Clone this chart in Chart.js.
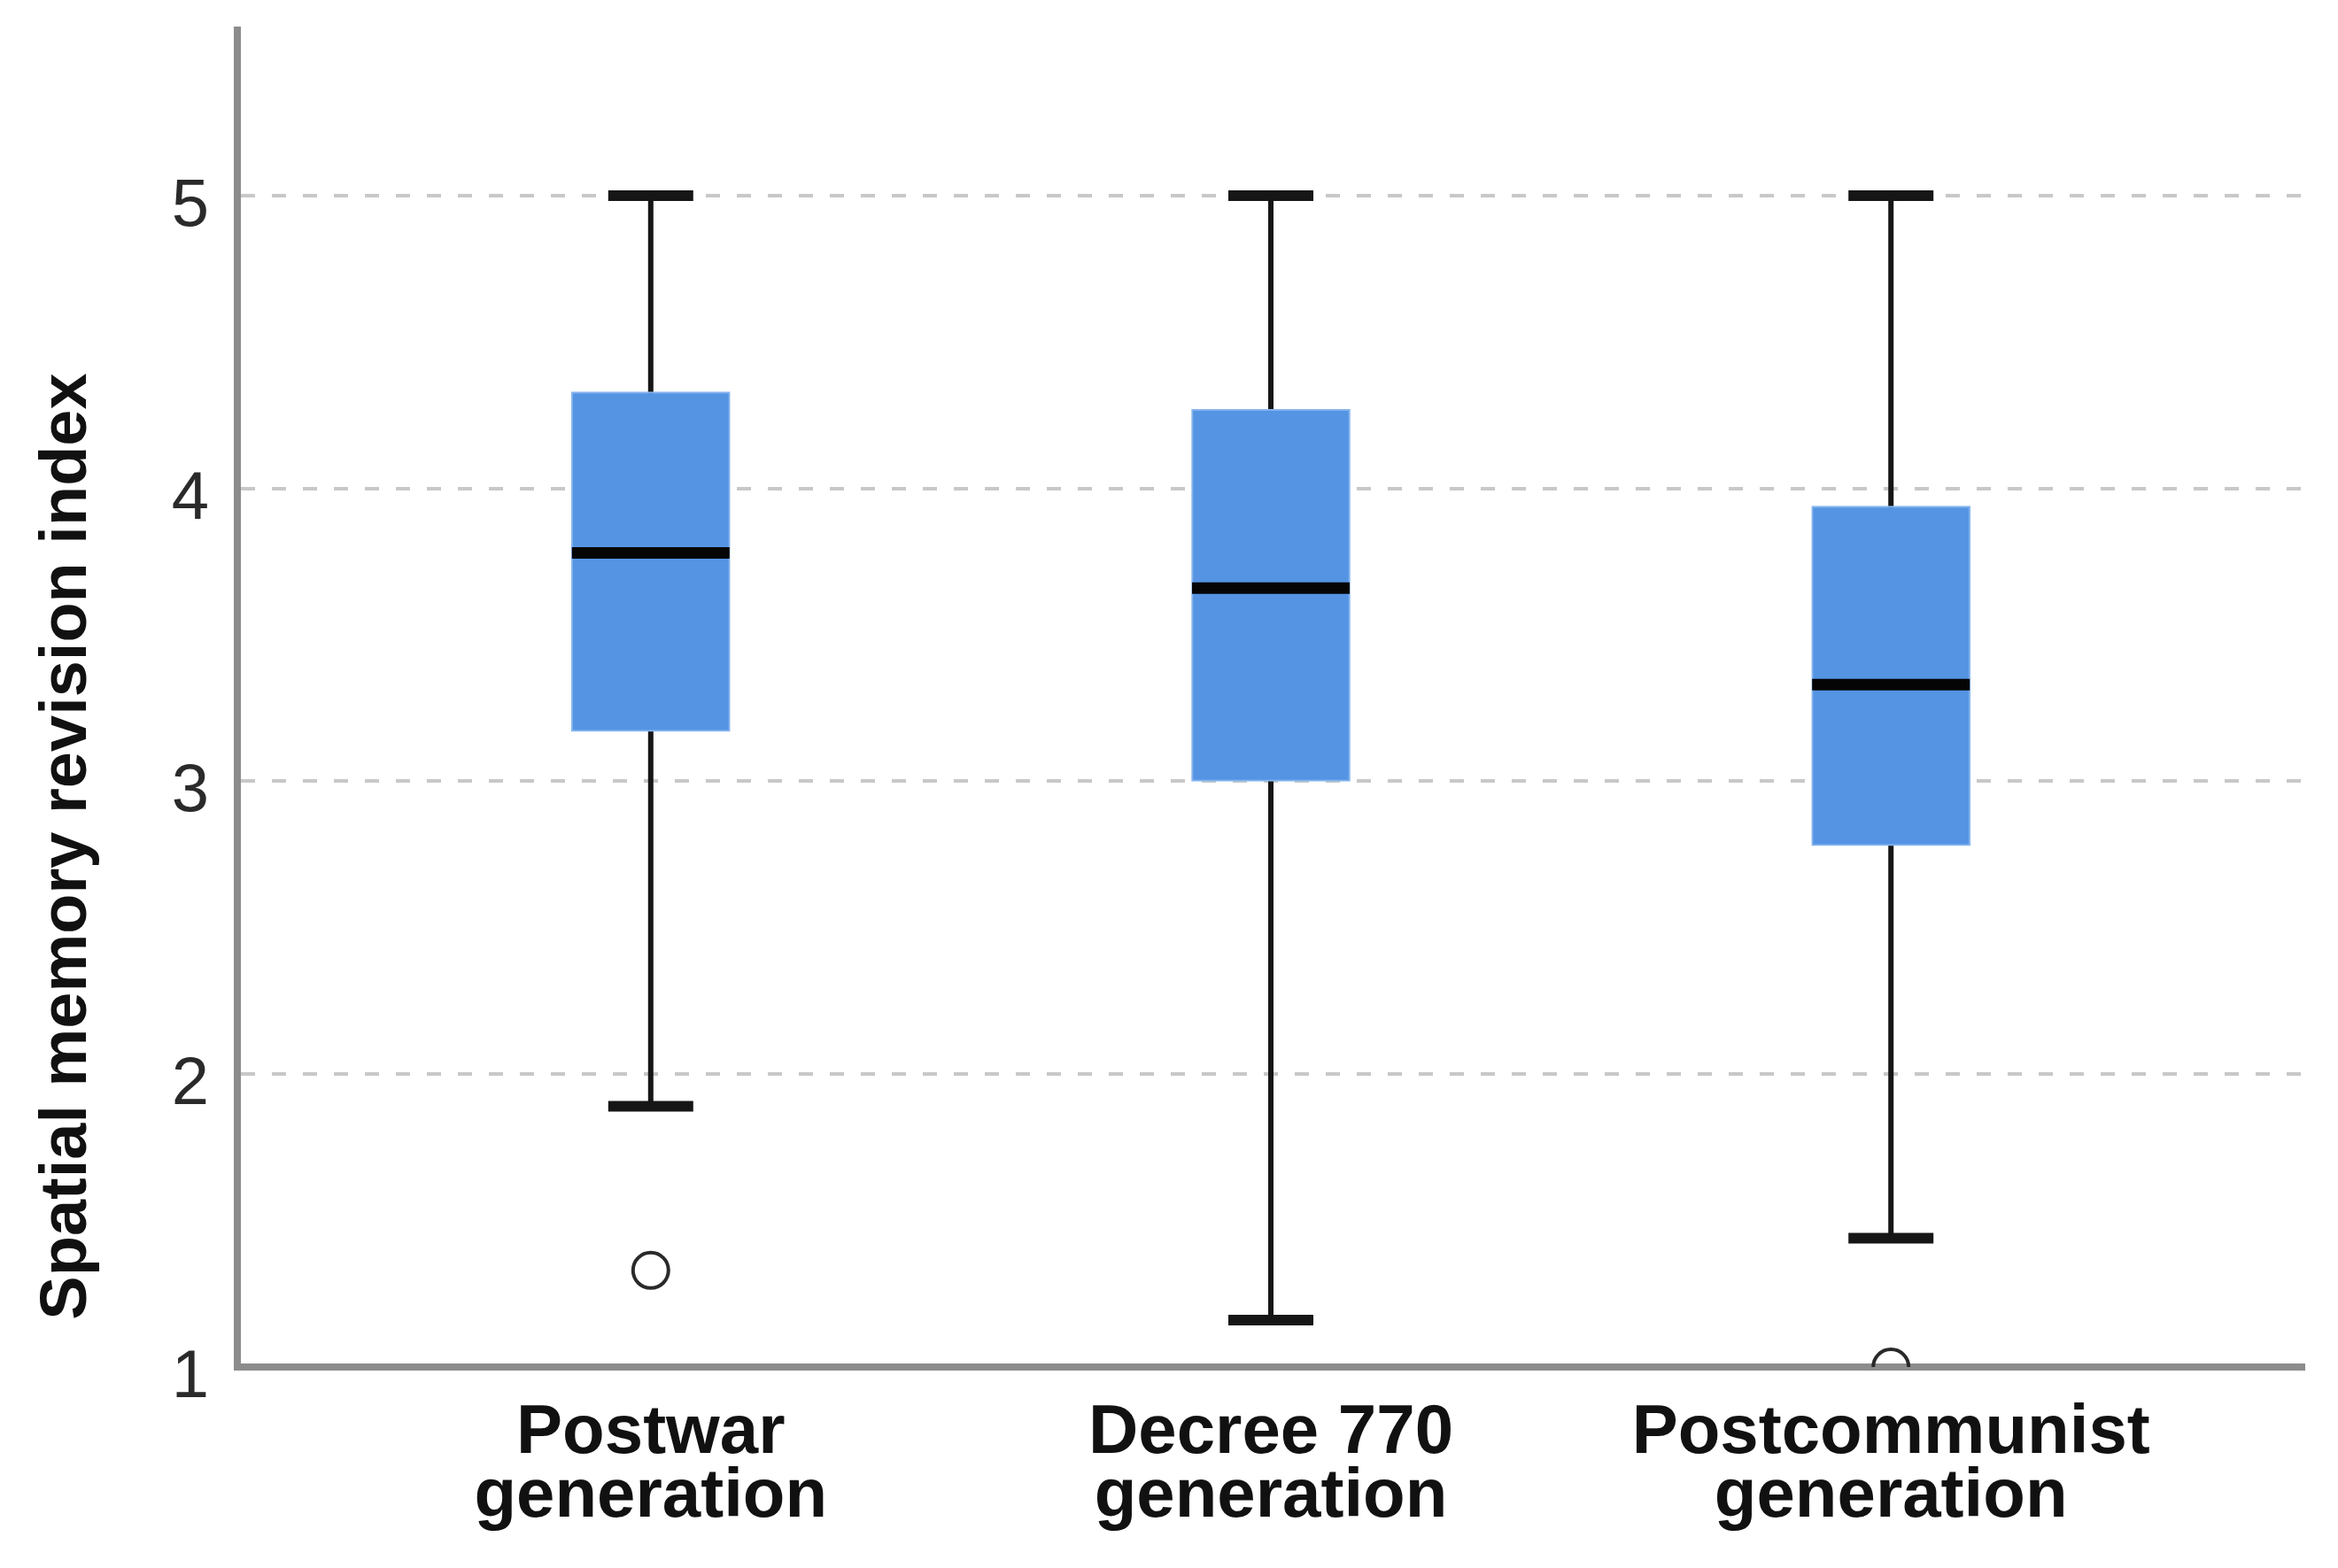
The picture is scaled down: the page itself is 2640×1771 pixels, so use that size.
<!DOCTYPE html>
<html><head><meta charset="utf-8">
<script src="https://cdn.jsdelivr.net/npm/chart.js@4.4.1/dist/chart.umd.min.js"></script>
<style>html,body{margin:0;padding:0;background:#fff}#wrap{width:2640px;height:1771px;position:relative;background:#fff}</style>
</head><body><div id="wrap"><canvas id="c"></canvas></div>
<script>
const categories = [['Postwar', 'generation'], ['Decree 770', 'generation'], ['Postcommunist', 'generation']];
const categoryPositions = [1, 2, 3];
const whiskerLow = [1.89, 1.16, 1.44];
const q1 = [3.17, 3.00, 2.78];
const median = [3.78, 3.66, 3.33];
const q3 = [4.33, 4.27, 3.94];
const whiskerHigh = [5, 5, 5];
const outlierCategory = [1, 3];
const outlierValue = [1.33, 1.00];
const yTicks = [1, 2, 3, 4, 5];
const yAxisTitle = 'Spatial memory revision index';

const FONT = "'Liberation Sans', Arial, sans-serif";

const boxParts = {
  id: 'boxParts',
  beforeDatasetsDraw(chart) {
    const {ctx, scales: {x, y}} = chart;
    ctx.save();
    ctx.strokeStyle = '#161616';
    categoryPositions.forEach((c, i) => {
      const px = x.getPixelForValue(c);
      ctx.lineWidth = 6;
      ctx.beginPath();
      ctx.moveTo(px, y.getPixelForValue(whiskerLow[i]));
      ctx.lineTo(px, y.getPixelForValue(whiskerHigh[i]));
      ctx.stroke();
      ctx.lineWidth = 12;
      [whiskerLow[i], whiskerHigh[i]].forEach(v => {
        const py = y.getPixelForValue(v);
        ctx.beginPath(); ctx.moveTo(px - 48, py); ctx.lineTo(px + 48, py); ctx.stroke();
      });
    });
    ctx.restore();
  },
  afterDatasetDraw(chart, args) {
    if (args.index !== 0) return;
    const {ctx, scales: {x, y}} = chart;
    ctx.save();
    ctx.strokeStyle = '#050505';
    ctx.lineWidth = 13;
    categoryPositions.forEach((c, i) => {
      const px = x.getPixelForValue(c);
      const py = y.getPixelForValue(median[i]);
      ctx.beginPath(); ctx.moveTo(px - 89, py); ctx.lineTo(px + 89, py); ctx.stroke();
    });
    ctx.restore();
  },
  afterDraw(chart) {
    const {ctx} = chart;
    ctx.save();
    ctx.translate(97, 956);
    ctx.rotate(-Math.PI / 2);
    ctx.font = 'bold 74px ' + FONT;
    ctx.fillStyle = '#111';
    ctx.textAlign = 'center';
    ctx.textBaseline = 'alphabetic';
    ctx.fillText(yAxisTitle, 0, 0);
    ctx.restore();
  }
};

new Chart(document.getElementById('c'), {
  data: {
    datasets: [
      {
        type: 'bar',
        data: categoryPositions.map((c, i) => ({x: c, y: [q1[i], q3[i]]})),
        backgroundColor: '#5594e3',
        borderColor: '#86b4ee',
        borderWidth: 2,
        borderSkipped: false,
        barThickness: 179,
        grouped: false
      },
      {
        type: 'scatter',
        data: outlierCategory.map((c, i) => ({x: c, y: outlierValue[i]})),
        pointRadius: 20,
        pointBorderWidth: 4,
        borderColor: '#2a2a2a',
        backgroundColor: 'rgba(255,255,255,0)',
        clip: 0
      }
    ]
  },
  options: {
    responsive: true,
    maintainAspectRatio: false,
    devicePixelRatio: 1,
    animation: false,
    layout: {padding: {top: 34, right: 38, left: 0, bottom: 0}},
    plugins: {legend: {display: false}, tooltip: {enabled: false}},
    scales: {
      x: {
        type: 'linear',
        min: 1 / 3,
        max: 11 / 3,
        offset: false,
        z: 1,
        afterBuildTicks(s) { s.ticks = categoryPositions.map(v => ({value: v})); },
        afterFit(s) { s.height = 227; s.paddingLeft = 0; s.paddingRight = 0; },
        grid: {display: false, drawTicks: false, offset: false},
        border: {display: true, color: '#8c8c8c', width: 8},
        ticks: {
          autoSkip: false,
          maxRotation: 0,
          padding: 40,
          color: '#111',
          font: {family: FONT, size: 78, weight: 'bold', lineHeight: 0.92},
          callback(v) { const i = categoryPositions.indexOf(v); return i >= 0 ? categories[i] : ''; }
        }
      },
      y: {
        type: 'linear',
        min: 1,
        max: 5.565,
        afterBuildTicks(s) { s.ticks = yTicks.map(v => ({value: v})); },
        afterFit(s) { s.width = 268; s.paddingTop = 0; s.paddingBottom = 0; },
        grid: {color: '#c8c8c8', lineWidth: 4, drawTicks: false},
        border: {display: true, color: '#8c8c8c', width: 8, dash: [16, 19]},
        ticks: {
          padding: 32,
          labelOffset: 13,
          color: '#2a2a2a',
          font: {family: FONT, size: 76},
          callback(v) { return String(v); }
        }
      }
    }
  },
  plugins: [boxParts]
});
</script>
</body></html>
